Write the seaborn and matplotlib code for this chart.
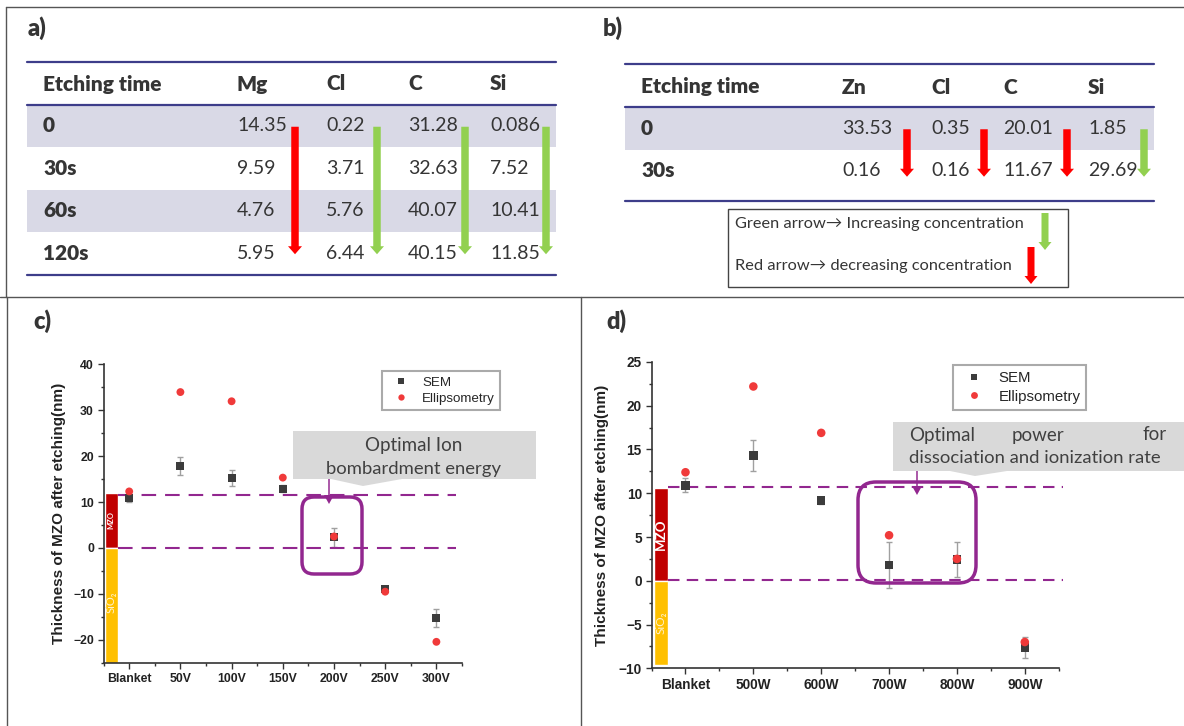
import seaborn as sns
import matplotlib.pyplot as plt
import pandas as pd
import numpy as np
from matplotlib.patches import Rectangle, FancyBboxPatch, FancyArrow, Polygon
from matplotlib.ticker import AutoMinorLocator, MultipleLocator

# a) XPS composition, MgZnO etched
times_a = ["0", "30s", "60s", "120s"]
elements_a = ["Mg", "Cl", "C", "Si"]
mg_a = ["14.35", "9.59", "4.76", "5.95"]
cl_a = ["0.22", "3.71", "5.76", "6.44"]
c_a = ["31.28", "32.63", "40.07", "40.15"]
si_a = ["0.086", "7.52", "10.41", "11.85"]

# b) XPS composition, ZnO etched
times_b = ["0", "30s"]
elements_b = ["Zn", "Cl", "C", "Si"]
zn_b = ["33.53", "0.16"]
cl_b = ["0.35", "0.16"]
c_b = ["20.01", "11.67"]
si_b = ["1.85", "29.69"]

# c) thickness vs bias voltage
bias = ["Blanket", "50V", "100V", "150V", "200V", "250V", "300V"]
sem_c = [10.9, 17.8, 15.2, 12.9, 2.3, -9.0, -15.2]
sem_c_err = [0.8, 2.0, 1.7, 0.8, 2.1, 0.5, 2.0]
ell_c = [12.3, 33.9, 31.9, 15.3, 2.5, -9.5, -20.4]
mzo_c, sio2_c = 12.0, -25.0
levels_c = [11.6, 0.1]

# d) thickness vs source power
power = ["Blanket", "500W", "600W", "700W", "800W", "900W"]
sem_d = [10.9, 14.3, 9.2, 1.8, 2.4, -7.6]
sem_d_err = [0.8, 1.8, 0.4, 2.6, 2.0, 1.2]
ell_d = [12.4, 22.2, 16.9, 5.2, 2.5, -7.0]
mzo_d, sio2_d = 10.6, -9.6
levels_d = [10.7, 0.05]

sns.set_style("ticks")
plt.rcParams["font.family"] = ["Liberation Sans", "DejaVu Sans"]

PURPLE = "#92278f"
NAVY = "#3d3d8a"
TXT = "#353535"
GREEN = "#92d050"
RED = "#ff0000"
LATO = ["Lato", "DejaVu Sans"]

fig = plt.figure(figsize=(11.84, 7.26), dpi=100)
ov = fig.add_axes([0, 0, 1, 1], zorder=5)
ov.set_xlim(0, 1184)
ov.set_ylim(726, 0)
ov.axis("off")
ov.patch.set_alpha(0)

# frame lines
for xs, ys in [([6, 1184], [7, 7]), ([6, 6], [7, 297]), ([0, 1184], [297, 297]),
               ([7, 7], [297, 726]), ([581, 581], [297, 726])]:
    ov.plot(xs, ys, color="#555555", lw=1)

for lab, x, y in [("a)", 28, 28), ("b)", 603, 28), ("c)", 33, 321), ("d)", 606, 321)]:
    ov.text(x, y, lab, fontsize=17, fontweight="heavy", family=LATO, color=TXT,
            ha="left", va="center")


def draw_table(x0, x1, y_top, y_head, head_y, row_h, y_bot, col_x, arrow_x,
               names, rows, cols, tip_off):
    centers = [y_head + row_h * (i + 0.5) for i in range(len(rows))]
    for i in range(0, len(rows), 2):
        ov.add_patch(Rectangle((x0, y_head + row_h * i), x1 - x0, row_h,
                               color="#d9d9e6", lw=0))
    for y in [y_top, y_head, y_bot]:
        ov.plot([x0, x1], [y, y], color=NAVY, lw=1.6)
    ov.text(col_x[0], head_y, "Etching time", fontsize=15, fontweight="heavy",
            family=LATO, color=TXT, va="center")
    for x, n in zip(col_x[1:], names):
        ov.text(x, head_y, n, fontsize=15, fontweight="heavy", family=LATO,
                color=TXT, va="center")
    for y, r in zip(centers, rows):
        ov.text(col_x[0], y, r, fontsize=15, fontweight="heavy", family=LATO,
                color=TXT, va="center")
    for x, ax_, vals in zip(col_x[1:], arrow_x, cols):
        for y, v in zip(centers, vals):
            ov.text(x, y, v, fontsize=14, family=LATO, color=TXT, va="center")
        col = GREEN if float(vals[-1]) > float(vals[0]) else RED
        y0, y1 = centers[0] + 1, centers[-1] + tip_off
        ov.add_patch(FancyArrow(ax_, y0, 0, y1 - y0, width=7.5, head_width=14,
                                head_length=8, length_includes_head=True,
                                color=col, lw=0))


draw_table(27, 556, 62, 104.5, 84, 42.5, 275, [43, 237, 326, 408, 490],
           [295, 377, 465, 546], elements_a, times_a, [mg_a, cl_a, c_a, si_a], 1)
draw_table(625, 1154, 64, 107, 87, 42.5, 201, [641, 842, 931, 1003, 1088],
           [907, 984, 1067, 1144], elements_b, times_b, [zn_b, cl_b, c_b, si_b], 6)

# arrow legend
ov.add_patch(Rectangle((728, 209), 340, 78, fill=False, edgecolor="#444444", lw=1))
ov.text(735, 224, "Green arrow\u2192 Increasing concentration", fontsize=11.8,
        family=LATO, color=TXT, va="center")
ov.text(735, 266, "Red arrow\u2192 decreasing concentration", fontsize=11.8,
        family=LATO, color=TXT, va="center")
ov.add_patch(FancyArrow(1045, 213, 0, 37, width=7, head_width=13, head_length=8,
                        length_includes_head=True, color=GREEN, lw=0))
ov.add_patch(FancyArrow(1031, 247, 0, 37, width=7, head_width=13, head_length=8,
                        length_includes_head=True, color=RED, lw=0))


def thickness_plot(rect, cats, sem, err, ell, ylim, ystep, mzo, sio2, levels,
                   bar_x, bar_w, hl_x, dash, tick_fs, leg_anchor, leg_fs, ms,
                   mzo_fs, sio_fs, sio_y):
    ax = fig.add_axes(rect)
    pos = np.arange(len(cats))
    df = pd.DataFrame({
        "pos": np.concatenate([pos, pos]),
        "val": sem + ell,
        "method": ["SEM"] * len(cats) + ["Ellipsometry"] * len(cats),
    })
    ax.errorbar(pos, sem, yerr=err, fmt="none", ecolor="#a0a0a0", elinewidth=1,
                capsize=2.5, capthick=1, zorder=2)
    sns.scatterplot(data=df, x="pos", y="val", hue="method", style="method",
                    palette={"SEM": "#3c3c3c", "Ellipsometry": "#f03a3a"},
                    markers={"SEM": "s", "Ellipsometry": "o"}, s=ms,
                    linewidth=0, ax=ax, zorder=3)
    ax.bar([bar_x], [mzo], bottom=0, width=bar_w, color="#c00000", zorder=1)
    ax.bar([bar_x], [sio2], bottom=0, width=bar_w, color="#ffc000", zorder=1)
    ax.text(bar_x, mzo / 2, "MZO", rotation=90, ha="center", va="center",
            color="white", fontsize=mzo_fs, family=LATO, fontweight="bold")
    ax.text(bar_x, sio_y, "SiO\u2082", rotation=90, ha="center", va="center",
            color="#fff2cc", fontsize=sio_fs, family=LATO)
    ax.hlines(levels, hl_x[0], hl_x[1], colors=PURPLE, linestyles=dash, lw=1.5,
              clip_on=False, zorder=2)
    ax.set_xlim(-0.5, len(cats) - 0.5)
    ax.set_ylim(*ylim)
    ax.set_xticks(pos)
    ax.set_xticklabels(cats, fontweight="bold", fontsize=tick_fs)
    ax.yaxis.set_major_locator(MultipleLocator(ystep))
    ax.xaxis.set_minor_locator(AutoMinorLocator(2))
    ax.yaxis.set_minor_locator(AutoMinorLocator(2))
    for t in ax.get_yticklabels():
        t.set_fontweight("bold")
        t.set_fontsize(tick_fs)
    ax.tick_params(which="major", length=4, width=1, color="#333333", pad=3,
                   labelcolor="#222222")
    ax.tick_params(which="minor", length=2.5, width=1, color="#333333")
    ax.set_xlabel("")
    ax.set_ylabel("Thickness of MZO after etching(nm)", fontsize=11,
                  fontweight="bold", color="#222222")
    ax.yaxis.set_label_coords(-0.105, 0.5)
    sns.despine(ax=ax)
    for s in ["left", "bottom"]:
        ax.spines[s].set_color("#333333")
        ax.spines[s].set_linewidth(1.2)
    sns.move_legend(ax, "upper left", bbox_to_anchor=leg_anchor, title=None,
                    frameon=True, fancybox=False, edgecolor="#aaaaaa",
                    fontsize=leg_fs, borderaxespad=0, handletextpad=0.6,
                    borderpad=0.4, labelspacing=0.3, framealpha=1,
                    markerscale=0.8)
    ax.get_legend().get_frame().set_linewidth(1.5)
    return ax


thickness_plot([0.0875, 0.0868, 0.3027, 0.4118], bias, sem_c, sem_c_err, ell_c,
               (-25, 40), 10, mzo_c, sio2_c, levels_c, -0.353, 0.253,
               (-0.227, 6.38), (0, (7, 4.3)), 8.8, (0.777, 0.977), 9.6, 32,
               5.5, 8, -11.8)
thickness_plot([0.5503, 0.0795, 0.3439, 0.4219], power, sem_d, sem_d_err, ell_d,
               (-10, 25), 5, mzo_d, sio2_d, levels_d, -0.36, 0.2,
               (-0.26, 5.56), (0, (5.5, 3.5)), 9.8, (0.741, 0.99), 10.8, 38,
               9.5, 8.5, sio2_d / 2)

# c) highlight + callout
ov.add_patch(FancyBboxPatch((302, 497), 60, 77, boxstyle="round,pad=0,rounding_size=12",
                            fill=False, edgecolor=PURPLE, lw=2.5))
ov.add_patch(Polygon([(293, 431), (536, 431), (536, 479), (402, 479), (363, 486),
                      (331, 479), (293, 479)], closed=True, color="#d9d9d9", lw=0))
ov.text(414, 445, "Optimal Ion", fontsize=13.5, family=LATO, color="#404040",
        ha="center", va="center")
ov.text(414, 469, "bombardment energy", fontsize=13.3, family=LATO, color="#404040",
        ha="center", va="center")
ov.add_patch(FancyArrow(329, 479, 0, 25, width=1.5, head_width=10, head_length=9,
                        length_includes_head=True, color=PURPLE, lw=0))

# d) highlight + callout
ov.add_patch(FancyBboxPatch((858, 482), 118, 101, boxstyle="round,pad=0,rounding_size=18",
                            fill=False, edgecolor=PURPLE, lw=2.5))
ov.add_patch(Polygon([(893, 422), (1184, 422), (1184, 471), (1007, 471), (975, 476),
                      (950, 471), (893, 471)], closed=True, color="#d9d9d9", lw=0))
ov.text(909, 435, "Optimal", fontsize=13.5, family=LATO, color="#404040",
        ha="left", va="center")
ov.text(1038, 435, "power", fontsize=13.5, family=LATO, color="#404040",
        ha="center", va="center")
ov.text(1167, 435, "for", fontsize=13.5, family=LATO, color="#404040",
        ha="right", va="center")
ov.text(909, 458, "dissociation and ionization rate", fontsize=13.3, family=LATO,
        color="#404040", ha="left", va="center")
ov.add_patch(FancyArrow(917, 471, 0, 24, width=1.5, head_width=10, head_length=9,
                        length_includes_head=True, color=PURPLE, lw=0))

fig.savefig("out.png", dpi=100)
